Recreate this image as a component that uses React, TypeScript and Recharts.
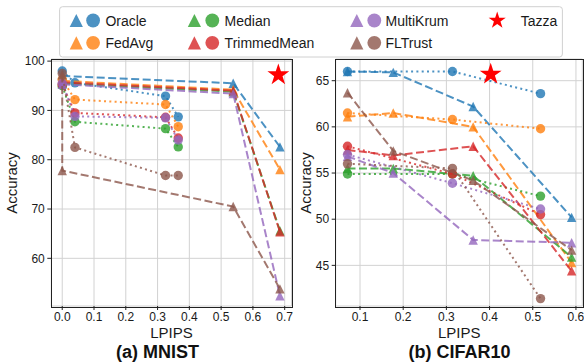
import React from 'react';
import { ScatterChart, Scatter, XAxis, YAxis, CartesianGrid } from 'recharts';

const FONT = "'Liberation Sans', Arial, Helvetica, sans-serif";

const methodNames = ['Oracle', 'FedAvg', 'Median', 'TrimmedMean', 'MultiKrum', 'FLTrust'];
const methodColors = ['#1f77b4', '#ff7f0e', '#2ca02c', '#d62728', '#9467bd', '#8c564b'];
const tazzaName = 'Tazza';
const tazzaColor = '#ff0000';

// ---------- MNIST ----------
const mnistXTicks = [0, 0.1, 0.2, 0.3, 0.4, 0.5, 0.6, 0.7];
const mnistYTicks = [60, 70, 80, 90, 100];
const mnistTriX = [0, 0.538, 0.685];
const mnistFLTrustTriX = [0, 0, 0.538, 0.685];
const mnistCircX = [0, 0.04, 0.325, 0.365];
const mnistOracleTri = [97.0, 95.5, 82.6];
const mnistFedAvgTri = [96.0, 94.2, 78.0];
const mnistMedianTri = [95.5, 93.8, 65.6];
const mnistTrimmedMeanTri = [95.7, 94.0, 65.4];
const mnistMultiKrumTri = [95.3, 93.4, 52.4];
const mnistFLTrustTri = [97.3, 77.8, 70.5, 53.8];
const mnistOracleCirc = [98.0, 95.6, 92.9, 88.7];
const mnistFedAvgCirc = [96.3, 92.2, 91.2, 86.7];
const mnistMedianCirc = [95.0, 87.7, 86.3, 82.6];
const mnistTrimmedMeanCirc = [95.3, 89.5, 88.6, 84.4];
const mnistMultiKrumCirc = [95.5, 88.8, 88.5, 84.0];
const mnistFLTrustCirc = [97.5, 82.5, 76.8, 76.8];
const mnistTazza = [0.68, 97.2];

// ---------- CIFAR10 ----------
const cifarXTicks = [0.1, 0.2, 0.3, 0.4, 0.5, 0.6];
const cifarYTicks = [45, 50, 55, 60, 65];
const cifarTriX = [0.071, 0.177, 0.362, 0.59];
const cifarCircX = [0.071, 0.314, 0.518];
const cifarOracleTri = [66.0, 65.9, 62.2, 50.2];
const cifarFedAvgTri = [61.1, 61.5, 60.0, 45.3];
const cifarMedianTri = [55.5, 55.5, 54.7, 45.9];
const cifarTrimmedMeanTri = [57.5, 56.9, 57.9, 44.4];
const cifarMultiKrumTri = [56.8, 55.0, 47.75, 47.45];
const cifarFLTrustTri = [63.7, 57.4, 54.2, 46.65];
const cifarOracleCirc = [66.0, 66.0, 63.6];
const cifarFedAvgCirc = [61.5, 60.8, 59.8];
const cifarMedianCirc = [54.9, 54.9, 52.5];
const cifarTrimmedMeanCirc = [57.9, 54.9, 50.5];
const cifarMultiKrumCirc = [57.0, 53.9, 51.1];
const cifarFLTrustCirc = [56.0, 55.5, 41.4];
const cifarTazza = [0.4026, 65.7];

type Pt = { x: number; y: number };
const zip = (xs: number[], ys: number[]): Pt[] => ys.map((y, i) => ({ x: xs[i], y }));

type Series = { name: string; color: string; tri: Pt[]; circ: Pt[] };

const mnistSeries: Series[] = [
  { name: methodNames[0], color: methodColors[0], tri: zip(mnistTriX, mnistOracleTri), circ: zip(mnistCircX, mnistOracleCirc) },
  { name: methodNames[1], color: methodColors[1], tri: zip(mnistTriX, mnistFedAvgTri), circ: zip(mnistCircX, mnistFedAvgCirc) },
  { name: methodNames[2], color: methodColors[2], tri: zip(mnistTriX, mnistMedianTri), circ: zip(mnistCircX, mnistMedianCirc) },
  { name: methodNames[3], color: methodColors[3], tri: zip(mnistTriX, mnistTrimmedMeanTri), circ: zip(mnistCircX, mnistTrimmedMeanCirc) },
  { name: methodNames[4], color: methodColors[4], tri: zip(mnistTriX, mnistMultiKrumTri), circ: zip(mnistCircX, mnistMultiKrumCirc) },
  { name: methodNames[5], color: methodColors[5], tri: zip(mnistFLTrustTriX, mnistFLTrustTri), circ: zip(mnistCircX, mnistFLTrustCirc) },
];

const cifarSeries: Series[] = [
  { name: methodNames[0], color: methodColors[0], tri: zip(cifarTriX, cifarOracleTri), circ: zip(cifarCircX, cifarOracleCirc) },
  { name: methodNames[1], color: methodColors[1], tri: zip(cifarTriX, cifarFedAvgTri), circ: zip(cifarCircX, cifarFedAvgCirc) },
  { name: methodNames[2], color: methodColors[2], tri: zip(cifarTriX, cifarMedianTri), circ: zip(cifarCircX, cifarMedianCirc) },
  { name: methodNames[3], color: methodColors[3], tri: zip(cifarTriX, cifarTrimmedMeanTri), circ: zip(cifarCircX, cifarTrimmedMeanCirc) },
  { name: methodNames[4], color: methodColors[4], tri: zip(cifarTriX, cifarMultiKrumTri), circ: zip(cifarCircX, cifarMultiKrumCirc) },
  { name: methodNames[5], color: methodColors[5], tri: zip(cifarTriX, cifarFLTrustTri), circ: zip(cifarCircX, cifarFLTrustCirc) },
];

const starPoints = (cx: number, cy: number, R: number) => {
  const r = R * 0.382;
  const pts: string[] = [];
  for (let i = 0; i < 10; i++) {
    const a = -Math.PI / 2 + (i * Math.PI) / 5;
    const rr = i % 2 === 0 ? R : r;
    pts.push(`${cx + rr * Math.cos(a)},${cy + rr * Math.sin(a)}`);
  }
  return pts.join(' ');
};

const triPoints = (cx: number, cy: number, h: number) =>
  `${cx},${cy - h} ${cx - h},${cy + h} ${cx + h},${cy + h}`;

const makeTri = (color: string, h: number) => (props: any) => {
  const { cx, cy } = props;
  if (cx == null || cy == null || isNaN(cx) || isNaN(cy)) return <g />;
  return <polygon points={triPoints(cx, cy, h)} fill={color} fillOpacity={0.8} />;
};
const makeCirc = (color: string, r: number) => (props: any) => {
  const { cx, cy } = props;
  if (cx == null || cy == null || isNaN(cx) || isNaN(cy)) return <g />;
  return <circle cx={cx} cy={cy} r={r} fill={color} fillOpacity={0.8} />;
};
const makeStar = (R: number) => (props: any) => {
  const { cx, cy } = props;
  if (cx == null || cy == null || isNaN(cx) || isNaN(cy)) return <g />;
  return <polygon points={starPoints(cx, cy, R)} fill={tazzaColor} />;
};

const PLOT_TOP = 59;
const CH_H = 362;
const X_AXIS_H = 20;
const BOTTOM_M = 36;

type PanelProps = {
  left: number;
  width: number;
  yAxisWidth: number;
  marginRight: number;
  xDomain: [number, number];
  yDomain: [number, number];
  xTicks: number[];
  yTicks: number[];
  series: Series[];
  star: number[];
};

function Panel(p: PanelProps) {
  const plotW = p.width - p.yAxisWidth - p.marginRight;
  const plotH = CH_H - PLOT_TOP - X_AXIS_H - BOTTOM_M;
  const tickStyle = { fontSize: 12, fill: '#1a1a1a', fontFamily: FONT };
  return (
    <div style={{ position: 'absolute', left: p.left, top: 0, width: p.width, height: CH_H }}>
      <ScatterChart
        width={p.width}
        height={CH_H}
        margin={{ top: PLOT_TOP, right: p.marginRight, bottom: BOTTOM_M, left: 0 }}
      >
        <CartesianGrid stroke="#d2d2d2" strokeWidth={1} />
        <XAxis
          type="number"
          dataKey="x"
          domain={p.xDomain}
          ticks={p.xTicks}
          allowDataOverflow
          interval={0}
          height={X_AXIS_H}
          axisLine={false}
          tickLine={{ stroke: '#222' }}
          tickSize={4}
          tickMargin={2.5}
          tick={tickStyle}
          tickFormatter={(v: number) => v.toFixed(1)}
        />
        <YAxis
          type="number"
          dataKey="y"
          domain={p.yDomain}
          ticks={p.yTicks}
          allowDataOverflow
          interval={0}
          width={p.yAxisWidth}
          axisLine={false}
          tickLine={{ stroke: '#222' }}
          tickSize={4}
          tickMargin={2.5}
          tick={tickStyle}
        />
        {p.series.flatMap((s) => [
          <Scatter
            key={s.name + '-tri'}
            name={s.name}
            data={s.tri}
            fill={s.color}
            line={{ stroke: s.color, strokeWidth: 2, strokeDasharray: '8 3.5', strokeOpacity: 0.8 }}
            lineType="joint"
            shape={makeTri(s.color, 4.7)}
            isAnimationActive={false}
          />,
          <Scatter
            key={s.name + '-circ'}
            name={s.name}
            data={s.circ}
            fill={s.color}
            line={{ stroke: s.color, strokeWidth: 2, strokeDasharray: '2 3.3', strokeOpacity: 0.8 }}
            lineType="joint"
            shape={makeCirc(s.color, 4.7)}
            isAnimationActive={false}
          />,
        ])}
        <Scatter
          name={tazzaName}
          data={[{ x: p.star[0], y: p.star[1] }]}
          fill={tazzaColor}
          shape={makeStar(11.5)}
          isAnimationActive={false}
        />
      </ScatterChart>
      <div
        style={{
          position: 'absolute',
          left: p.yAxisWidth - 0.5,
          top: PLOT_TOP - 0.5,
          width: plotW,
          height: plotH,
          border: '1px solid #222',
          pointerEvents: 'none',
        }}
      />
    </div>
  );
}

function LegendBox() {
  const cols = [
    { tri: 76.3, circ: 93.1, text: 105.4, items: [0, 1] },
    { tri: 194.4, circ: 212.3, text: 224.6, items: [2, 3] },
    { tri: 356.8, circ: 374.3, text: 385.5, items: [4, 5] },
  ];
  const rows = [20.5, 42.8];
  return (
    <svg width={584} height={62} style={{ position: 'absolute', left: 0, top: 0 }}>
      <rect x={59.6} y={6.7} width={502.8} height={50.3} rx={3} fill="#fff" fillOpacity={0.8} stroke="#d0d0d0" strokeWidth={1} />
      {cols.map((c) =>
        c.items.map((mi, ri) => (
          <g key={mi}>
            <polygon points={triPoints(c.tri, rows[ri], 6.6)} fill={methodColors[mi]} fillOpacity={0.8} />
            <circle cx={c.circ} cy={rows[ri]} r={6.9} fill={methodColors[mi]} fillOpacity={0.8} />
            <text x={c.text} y={rows[ri] + 5} fontSize={14} fontFamily={FONT} fill="#1a1a1a">
              {methodNames[mi]}
            </text>
          </g>
        ))
      )}
      <polygon points={starPoints(497.2, rows[0], 9)} fill={tazzaColor} />
      <text x={520.7} y={rows[0] + 5} fontSize={14} fontFamily={FONT} fill="#1a1a1a">
        {tazzaName}
      </text>
    </svg>
  );
}

function Labels() {
  return (
    <svg width={584} height={362} style={{ position: 'absolute', left: 0, top: 0, pointerEvents: 'none' }}>
      <text transform="translate(17.3,183) rotate(-90)" textAnchor="middle" fontSize={15} fontFamily={FONT} fill="#1a1a1a">
        Accuracy
      </text>
      <text transform="translate(311.1,183) rotate(-90)" textAnchor="middle" fontSize={15} fontFamily={FONT} fill="#1a1a1a">
        Accuracy
      </text>
      <text x={171.5} y={337.5} textAnchor="middle" fontSize={15} fontFamily={FONT} fill="#1a1a1a">
        LPIPS
      </text>
      <text x={459.2} y={337.8} textAnchor="middle" fontSize={15} fontFamily={FONT} fill="#1a1a1a">
        LPIPS
      </text>
      <text x={157.5} y={358} textAnchor="middle" fontSize={18} fontWeight="bold" fontFamily={FONT} fill="#111">
        (a) MNIST
      </text>
      <text x={459.5} y={358} textAnchor="middle" fontSize={18} fontWeight="bold" fontFamily={FONT} fill="#111">
        (b) CIFAR10
      </text>
    </svg>
  );
}

export default function App() {
  return (
    <div
      style={{
        position: 'absolute',
        left: 0,
        top: 0,
        width: 584,
        height: 362,
        background: '#fff',
        overflow: 'hidden',
        fontFamily: FONT,
      }}
    >
      <Panel
        left={0}
        width={300}
        yAxisWidth={51.3}
        marginRight={8.5}
        xDomain={[-0.0344, 0.7214]}
        yDomain={[50.33, 100.43]}
        xTicks={mnistXTicks}
        yTicks={mnistYTicks}
        series={mnistSeries}
        star={mnistTazza}
      />
      <Panel
        left={284}
        width={300}
        yAxisWidth={51.7}
        marginRight={1.7}
        xDomain={[0.0437, 0.6147]}
        yDomain={[40.6, 67.35]}
        xTicks={cifarXTicks}
        yTicks={cifarYTicks}
        series={cifarSeries}
        star={cifarTazza}
      />
      <Labels />
      <LegendBox />
    </div>
  );
}
